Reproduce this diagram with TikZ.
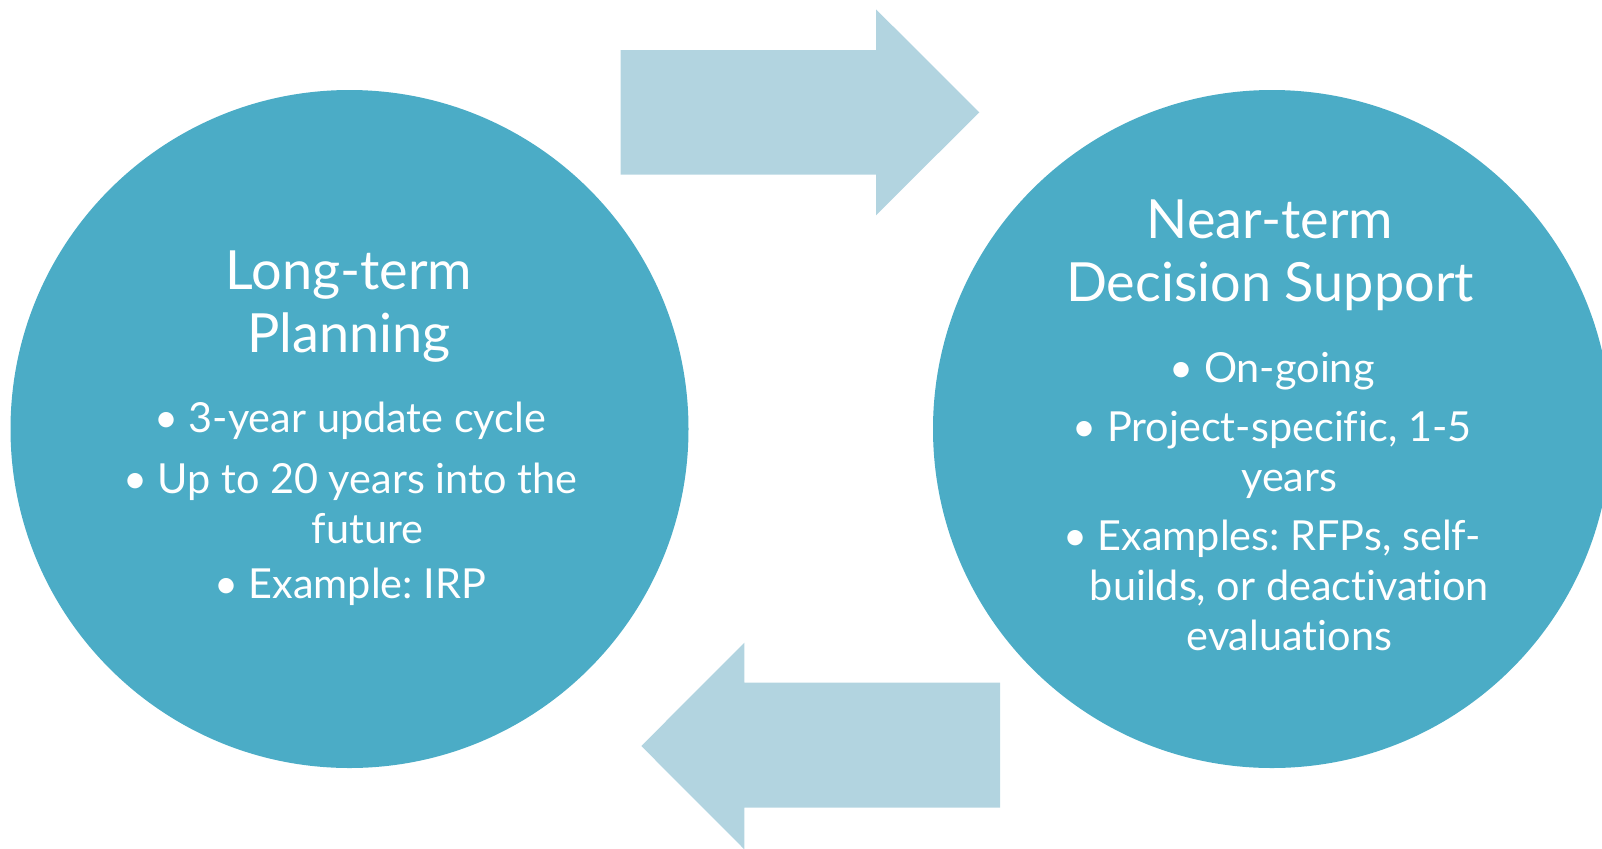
\documentclass[tikz,border=0pt]{standalone}
\usepackage{fontspec}
\setmainfont{Lato}[Ligatures={NoCommon}]
\usetikzlibrary{positioning}
\definecolor{cyclefill}{HTML}{4BACC6}
\definecolor{arrowfill}{HTML}{B2D4E0}
\tikzset{
    phase/.style = {
        circle,
        fill = cyclefill,
        minimum size = 339pt,
        inner sep = 0pt,
        },
    phase title/.style = {
        text = white,
        font = \fontsize{27}{31.5}\selectfont,
        align = center,
        inner sep = 0pt,
        },
    phase item/.style = {
        text = white,
        font = \fontsize{20.7}{25}\selectfont,
        align = center,
        inner sep = 0pt,
        },
    flow arrow/.style = {
        fill = arrowfill,
        },
}
\newcommand{\itemdot}{\textbullet\ }
\newcommand{\itemgap}{\hphantom{\textbullet\ }}
\frenchspacing

\begin{document}
\begin{tikzpicture}[x=0.5pt, y=-0.5pt]
            \useasboundingbox (0,0) rectangle (1602,848);
            \clip (0,0) rectangle (1602,848);

            % the two phases
            \node [phase] (longterm) at (349.5,429) {};
            \node [phase] (nearterm) at (1272,429) {};

            % arrows between them
            \fill [flow arrow] (620.7,50) -- (876,50) -- (876,9.3) -- (979.3,112.3)
                -- (876,215.3) -- (876,174.7) -- (620.7,174.7) -- cycle;
            \fill [flow arrow] (1000,682.7) -- (744.3,682.7) -- (744.3,642.7) -- (641.3,746)
                -- (744.3,849.3) -- (744.3,807.7) -- (1000,807.7) -- cycle;

            % left phase text
            \node [phase title] (lt title) at (349,306.5) {Long-term\\Planning};
            \node [phase item] (lt cycle) at (350,421) {\itemdot 3-year update cycle};
            \node [phase item] (lt span) at (350,503) {\itemdot Up to 20 years into the\\\itemgap future};
            \node [phase item] (lt example) at (350,587) {\itemdot Example: IRP};

            % right phase text
            \node [phase title] (nt title) at (1270,255.5) {Near-term\\Decision Support};
            \node [phase item] (nt going) at (1272,371) {\itemdot On-going};
            \node [phase item] (nt project) at (1272,454.5) {\itemdot Project-specific, 1-5\\\itemgap years};
            \node [phase item] (nt examples) at (1272,585) {\itemdot Examples: RFPs, self-\\\itemgap builds, or deactivation\\\itemgap evaluations};

        \end{tikzpicture}
\end{document}
